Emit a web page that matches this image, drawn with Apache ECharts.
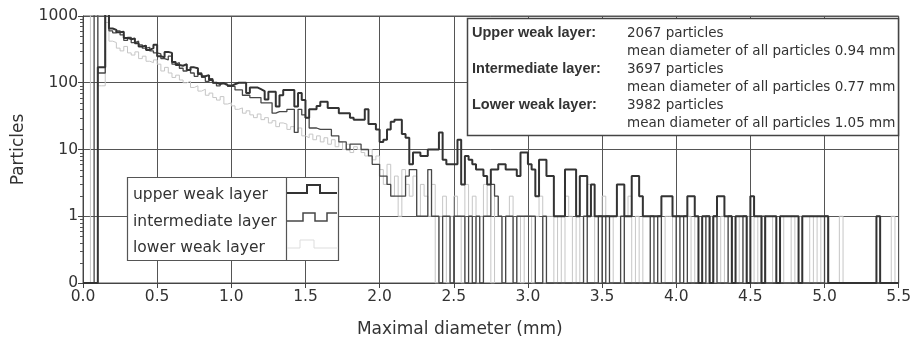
<!DOCTYPE html>
<html>
<head>
<meta charset="utf-8">
<title>Particle size distribution</title>
<script src="https://cdn.jsdelivr.net/npm/echarts@6.0.0/dist/echarts.min.js"></script>
<style>
  html, body { margin: 0; padding: 0; background: #fff; }
  #chart { width: 914px; height: 343px; }
</style>
</head>
<body>
<div id="chart"></div>
<script>
  // histogram bins: 0.025 mm wide, starting at 0.0 mm (one row = 0.5 mm)
  const binStart = 0
  const binWidth = 0.025
  // where a count of 0 sits on the log axis
  const zeroAt = 0.1
  const yTickValues = [0.1, 1, 10, 100, 1000]
  const yTickLabels = ['0', '1', '10', '100', '1000']

  const upperWeak = [
    0, 0, 0, 0, 170, 170, 1200, 650, 620, 570, 580, 470, 450, 460, 390, 350, 360, 310, 330, 370,
    250, 240, 290, 280, 205, 185, 180, 190, 155, 170, 165, 135, 125, 130, 110, 100, 96, 98, 92, 90,
    95, 100, 100, 100, 70, 85, 85, 80, 75, 56, 73, 73, 44, 65, 78, 78, 78, 44, 70, 55,
    30, 40, 40, 45, 52, 52, 42, 42, 42, 35, 35, 35, 30, 28, 28, 28, 40, 24, 24, 20,
    13, 14, 20, 26, 28, 28, 17, 15, 6, 9, 9, 8, 8, 10, 10, 10, 18, 7, 6, 6,
    6, 14, 3, 8, 7, 6, 5, 5, 4, 3, 5, 5, 6, 6, 5, 5, 5, 4, 9, 9,
    6, 5, 2, 7, 7, 4, 4, 1, 1, 1, 5, 5, 5, 1, 4, 4, 1, 3, 1, 1,
    1, 1, 1, 1, 3, 3, 1, 1, 4, 4, 2, 1, 1, 1, 1, 1, 2, 2, 2, 1,
    1, 1, 1, 2, 2, 1, 0, 1, 1, 0, 1, 2, 2, 1, 1, 0, 1, 1, 1, 0,
    2, 1, 1, 0, 1, 1, 1, 0, 1, 1, 1, 1, 1, 0, 1, 1, 1, 1, 1, 1,
    1, 0, 0, 0, 0, 0, 0, 0, 0, 0, 0, 0, 0, 0, 1, 0, 0, 0, 0, 0
  ]
  const intermediate = [
    0, 0, 0, 1500, 140, 140, 1100, 600, 560, 600, 520, 430, 480, 400, 420, 370, 330, 340, 300, 280,
    270, 230, 220, 250, 190, 200, 165, 150, 160, 140, 125, 140, 120, 105, 115, 100, 90, 100, 95, 88,
    88, 78, 78, 65, 65, 60, 60, 60, 50, 50, 50, 35, 37, 37, 37, 40, 40, 18, 40, 33,
    30, 21, 21, 20, 20, 20, 20, 16, 16, 13, 13, 10, 12, 12, 12, 10, 10, 8, 6, 6,
    4, 4, 3, 2, 2, 2, 2, 4, 5, 5, 1, 1, 1, 5, 1, 1, 0, 1, 1, 0,
    1, 1, 1, 0, 1, 0, 1, 0, 1, 1, 3, 2, 1, 0, 1, 1, 0, 1, 1, 1,
    1, 1, 0, 0, 1, 0, 0, 0, 0, 0, 0, 0, 0, 0, 0, 1, 0, 0, 0, 1,
    0, 1, 0, 0, 0, 1, 0, 0, 0, 0, 0, 0, 0, 1, 0, 1, 0, 0, 0, 0,
    1, 0, 1, 0, 0, 0, 0, 0, 1, 0, 1, 0, 0, 0, 1, 0, 0, 0, 1, 0,
    0, 0, 0, 1, 0, 0, 0, 0, 0, 0, 0, 0, 0, 0, 0, 0, 0, 0, 0, 0,
    1, 0, 0, 0, 0, 0, 0, 0, 0, 0, 0, 0, 0, 0, 0, 0, 0, 0, 0, 0
  ]
  const lowerWeak = [
    0, 0, 2000, 2000, 90, 90, 800, 420, 400, 330, 300, 350, 280, 260, 290, 230, 250, 210, 200, 220,
    190, 150, 170, 140, 120, 130, 110, 100, 105, 85, 90, 75, 80, 65, 70, 60, 55, 62, 48, 50,
    45, 40, 42, 35, 38, 33, 30, 34, 28, 30, 25, 27, 22, 25, 24, 20, 22, 18, 21, 16,
    15, 17, 14, 16, 13, 15, 12, 14, 11, 13, 10, 12, 9, 11, 10, 9, 8, 10, 7, 8,
    5, 3, 6, 2, 4, 1, 5, 3, 2, 4, 1, 3, 2, 1, 3, 0, 1, 2, 0, 1,
    2, 1, 0, 3, 1, 2, 0, 1, 3, 1, 0, 2, 1, 0, 1, 2, 0, 1, 0, 1,
    1, 0, 1, 2, 0, 1, 1, 0, 1, 0, 2, 1, 0, 1, 0, 1, 3, 1, 0, 1,
    2, 1, 0, 1, 1, 0, 1, 2, 0, 1, 0, 1, 1, 0, 0, 1, 0, 1, 1, 0,
    1, 0, 1, 1, 0, 1, 0, 1, 0, 1, 1, 0, 1, 0, 1, 0, 1, 0, 1, 1,
    0, 1, 0, 1, 0, 0, 1, 0, 1, 0, 0, 1, 0, 1, 0, 0, 1, 0, 1, 0,
    1, 0, 0, 0, 1, 0, 0, 0, 0, 0, 0, 0, 0, 0, 0, 0, 0, 0, 1, 0
  ]

  const seriesNames = ['upper weak layer', 'intermediate layer', 'lower weak layer']
  const infoRows = [
    ['Upper weak layer:', '2067 particles'],
    ['', 'mean diameter of all particles 0.94 mm'],
    ['Intermediate layer:', '3697 particles'],
    ['', 'mean diameter of all particles 0.77 mm'],
    ['Lower weak layer:', '3982 particles'],
    ['', 'mean diameter of all particles 1.05 mm']
  ]

  const font = '"DejaVu Sans", "Liberation Sans", sans-serif'
  const colors = ['#333333', '#474747', '#c6c6c6']
  const widths = [2, 1.3, 1]

  // bin counts -> step points at the bin edges
  const toSteps = (counts) => {
    const pts = counts.map((c, i) => [binStart + i * binWidth, c > 0 ? c : zeroAt])
    pts.push([binStart + counts.length * binWidth, pts[pts.length - 1][1]])
    return pts
  }

  const label = (text, x, y, fontSpec) => ({
    type: 'text', silent: true,
    style: { text: text, x: x, y: y, font: fontSpec, fill: '#333', stroke: null, lineWidth: 0,
      textAlign: 'left', textVerticalAlign: 'middle' }
  })

  const chart = echarts.init(document.getElementById('chart'))

  const option = {
    animation: false,
    backgroundColor: '#fff',
    grid: {
      left: 83, right: 14, top: 16, bottom: 60,
      show: true, borderColor: '#555', borderWidth: 1, backgroundColor: 'transparent'
    },
    xAxis: {
      type: 'value',
      min: 0, max: 5.5, interval: 0.5,
      name: 'Maximal diameter (mm)',
      nameLocation: 'middle',
      nameGap: 38,
      nameTextStyle: { fontFamily: font, fontSize: 17, color: '#333', padding: [0, 62, 0, 0] },
      axisLine: { lineStyle: { color: '#444', width: 1 } },
      axisTick: { length: 5, lineStyle: { color: '#444' } },
      axisLabel: { fontFamily: font, fontSize: 15.5, color: '#333', margin: 6,
        formatter: (v) => v.toFixed(1) },
      splitLine: { show: true, lineStyle: { color: '#555', width: 1 } }
    },
    yAxis: {
      type: 'log', logBase: 10,
      min: 0.1, max: 1000,
      name: 'Particles',
      nameLocation: 'middle',
      nameGap: 56,
      nameTextStyle: { fontFamily: font, fontSize: 17, color: '#333' },
      axisLine: { show: true, lineStyle: { color: '#444', width: 1 } },
      axisTick: { show: true, length: 5, lineStyle: { color: '#444' } },
      axisLabel: { fontFamily: font, fontSize: 15.5, color: '#333', margin: 5,
        formatter: (v) => {
          const i = yTickValues.findIndex(t => Math.abs(Math.log10(t) - Math.log10(v)) < 1e-6)
          return i >= 0 ? yTickLabels[i] : ''
        } },
      splitLine: { show: true, lineStyle: { color: '#555', width: 1 } }
    },
    series: [
      { name: seriesNames[2], type: 'line', step: 'end', symbol: 'none', z: 2,
        lineStyle: { color: colors[2], width: widths[2] }, data: toSteps(lowerWeak) },
      { name: seriesNames[1], type: 'line', step: 'end', symbol: 'none', z: 3,
        lineStyle: { color: colors[1], width: widths[1] }, data: toSteps(intermediate) },
      { name: seriesNames[0], type: 'line', step: 'end', symbol: 'none', z: 4,
        lineStyle: { color: colors[0], width: widths[0] }, data: toSteps(upperWeak) }
    ]
  }

  chart.setOption(option)

  // log-spaced minor ticks on the y axis
  const axisX = chart.convertToPixel({ xAxisIndex: 0 }, 0)
  const minorTicks = []
  for (let e = -1; e < 3; e++) {
    for (let m = 2; m <= 9; m++) {
      const y = Math.round(chart.convertToPixel({ yAxisIndex: 0 }, m * Math.pow(10, e))) + 0.5
      minorTicks.push({ type: 'line', silent: true, shape: { x1: axisX - 3, y1: y, x2: axisX, y2: y },
        style: { stroke: '#555', lineWidth: 1 } })
    }
  }

  // legend box (text on the left, step samples on the right)
  const legendChildren = [
    { type: 'rect', shape: { x: 127.5, y: 177.5, width: 211, height: 83 },
      style: { fill: '#fff', stroke: '#555', lineWidth: 1.2 } },
    { type: 'line', shape: { x1: 286.5, y1: 177.5, x2: 286.5, y2: 260.5 },
      style: { stroke: '#555', lineWidth: 1.2 } },
    label(seriesNames[0], 133, 195, '15.5px ' + font),
    label(seriesNames[1], 133, 222, '15.5px ' + font),
    label(seriesNames[2], 133, 248, '15.5px ' + font),
    { type: 'polyline', shape: { points: [[287, 193], [307, 193], [307, 185], [320, 185], [320, 193], [337, 193]] },
      style: { stroke: colors[0], lineWidth: widths[0], fill: null } },
    { type: 'polyline', shape: { points: [[287, 221], [303, 221], [303, 213], [315, 213], [315, 221], [327, 221], [327, 213], [337, 213]] },
      style: { stroke: colors[1], lineWidth: 1.5, fill: null } },
    { type: 'polyline', shape: { points: [[287, 248], [300, 248], [300, 240], [314, 240], [314, 248], [337, 248]] },
      style: { stroke: '#dddddd', lineWidth: 1, fill: null } }
  ]

  // info box with particle counts and mean diameters
  const infoChildren = [
    { type: 'rect', shape: { x: 467.5, y: 18.5, width: 431, height: 117 },
      style: { fill: '#fff', stroke: '#444', lineWidth: 1.5 } }
  ]
  infoRows.forEach((row, k) => {
    const y = 33 + k * 18
    if (row[0]) infoChildren.push(label(row[0], 472, y, 'bold 14.5px "Liberation Sans", Arial, sans-serif'))
    infoChildren.push(label(row[1], 627, y, '13.5px ' + font))
  })

  chart.setOption({
    graphic: [
      { type: 'group', id: 'minorTicks', z: 50, children: minorTicks },
      { type: 'group', id: 'legendBox', z: 100, children: legendChildren },
      { type: 'group', id: 'infoBox', z: 100, children: infoChildren }
    ]
  })
</script>
</body>
</html>
